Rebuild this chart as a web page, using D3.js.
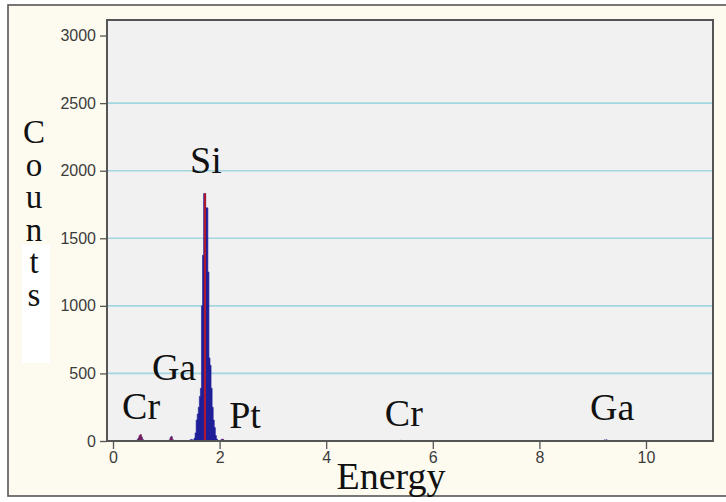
<!DOCTYPE html>
<html>
<head>
<meta charset="utf-8">
<script src="https://cdn.jsdelivr.net/npm/d3@7"></script>
<style>
  html, body { margin: 0; padding: 0; background: #ffffff; }
  svg { display: block; }
</style>
</head>
<body>
<svg id="chart" width="726" height="502"></svg>
<script>
// EDS spectrum: energy (keV) vs counts
const yTicks = [0, 500, 1000, 1500, 2000, 2500, 3000];
const xTicks = [0, 2, 4, 6, 8, 10];
const gridValues = [500, 1000, 1500, 2000, 2500];

// Measured spectrum channels (0.02 keV wide); channels not listed are empty
const specEnergy = [0.22, 0.24, 0.26, 0.44, 0.46, 0.48, 0.50, 0.52, 0.54, 0.56,
  1.06, 1.08, 1.10, 1.12, 1.43, 1.45, 1.47, 1.49, 1.51,
  1.53, 1.55, 1.57, 1.59, 1.61, 1.63, 1.65, 1.67, 1.69, 1.71, 1.73, 1.75, 1.77,
  1.79, 1.81, 1.83, 1.85, 1.87, 1.89, 1.91, 1.93, 1.95,
  2.02, 2.04, 2.06, 2.08, 5.38, 5.40, 5.42, 9.20, 9.22, 9.24, 9.26, 9.28];
const specCounts = [2, 4, 2, 4, 10, 22, 38, 46, 30, 12,
  8, 26, 34, 12, 4, 8, 12, 9, 6,
  20, 60, 155, 200, 250, 330, 390, 1000, 1375, 1830, 1830, 1725, 1725,
  1250, 615, 560, 390, 250, 155, 100, 40, 15,
  6, 12, 14, 6, 3, 5, 3, 4, 8, 6, 9, 4];

// Overlay trace
const overlayEnergy = [0.48, 0.50, 0.52, 0.54, 1.08, 1.10, 1.12, 1.725, 2.04, 2.06];
const overlayCounts = [14, 40, 48, 20, 18, 30, 8, 1830, 8, 10];

// Peak annotations (left edge of each label, baseline height in counts)
const peakLabels = ["Si", "Ga", "Cr", "Pt", "Cr", "Ga"];
const peakEnergy = [1.445, 0.73, 0.17, 2.18, 5.10, 8.95];
const peakCounts = [1983, 451, 163, 96, 111, 155];

const yLetters = ["C", "o", "u", "n", "t", "s"];

const svg = d3.select("#chart");

// Outer panel
svg.append("rect").attr("x", 8).attr("y", 5).attr("width", 740).attr("height", 491)
  .attr("fill", "#fdfbef").attr("stroke", "#555").attr("stroke-width", 1.6);

const plot = {left: 107, right: 713, top: 20, bottom: 441};

const x = d3.scaleLinear().domain([-0.1126, 11.257]).range([plot.left, plot.right]);
const y = d3.scaleLinear().domain([0, 3115]).range([plot.bottom, plot.top]);

// Plot background
svg.append("rect")
  .attr("x", plot.left).attr("y", plot.top)
  .attr("width", plot.right - plot.left).attr("height", plot.bottom - plot.top)
  .attr("fill", "#f1f1f1");

// Gridlines
svg.append("g").selectAll("line").data(gridValues).join("line")
  .attr("x1", plot.left).attr("x2", plot.right)
  .attr("y1", d => y(d)).attr("y2", d => y(d))
  .attr("stroke", "#a3d6e0").attr("stroke-width", 1.6);

// Split the channel list into contiguous runs, each closed off with empty channels
function runs(energies, counts, step) {
  const out = [];
  let cur = null;
  energies.forEach((e, i) => {
    if (!cur || e - cur[cur.length - 1].e > step * 1.5) {
      if (cur) out.push(cur);
      cur = [];
    }
    cur.push({e, c: counts[i]});
  });
  if (cur) out.push(cur);
  return out.map(r => [{e: r[0].e - step, c: 0}, ...r, {e: r[r.length - 1].e + step, c: 0}]);
}

const area = d3.area().curve(d3.curveStep)
  .x(d => x(d.e)).y0(y(0)).y1(d => y(d.c));

svg.append("g").selectAll("path").data(runs(specEnergy, specCounts, 0.02)).join("path")
  .attr("d", area)
  .attr("fill", "#1e1e98").attr("stroke", "#1e1e98").attr("stroke-width", 0.6);

// Overlay drawn as narrow red channels on top
svg.append("g").selectAll("path").data(runs(overlayEnergy, overlayCounts, 0.02)).join("path")
  .attr("d", area)
  .attr("fill", "#cf1f2a").attr("stroke", "#b01a30").attr("stroke-width", 1)
  .attr("opacity", d => d3.max(d, p => p.c) > 500 ? 1 : 0.55);

// Plot border
svg.append("rect")
  .attr("x", plot.left).attr("y", plot.top)
  .attr("width", plot.right - plot.left).attr("height", plot.bottom - plot.top)
  .attr("fill", "none").attr("stroke", "#555").attr("stroke-width", 2);

// Axes
const yAxis = d3.axisLeft(y).tickValues(yTicks).tickFormat(d3.format("d")).tickSize(7).tickPadding(4);
const gy = svg.append("g").attr("transform", `translate(${plot.left},0)`).call(yAxis);
const xAxis = d3.axisBottom(x).tickValues(xTicks).tickFormat(d3.format("d")).tickSize(8).tickPadding(3);
const gx = svg.append("g").attr("transform", `translate(0,${plot.bottom})`).call(xAxis);

[gy, gx].forEach(g => {
  g.select(".domain").remove();
  g.selectAll(".tick line").attr("stroke", "#555").attr("stroke-width", 1.3);
  g.selectAll(".tick text")
    .attr("fill", "#3c3c3c")
    .style("font-family", "'Liberation Sans', Arial, sans-serif")
    .style("font-size", "16px");
});

// Peak labels
svg.append("g").selectAll("text").data(peakLabels).join("text")
  .attr("x", (d, i) => x(peakEnergy[i]))
  .attr("y", (d, i) => y(peakCounts[i]))
  .attr("text-anchor", "start")
  .style("font-family", "'Liberation Serif', 'Times New Roman', serif")
  .style("font-size", "38px")
  .attr("fill", "#111")
  .text(d => d);

// Axis titles
svg.append("rect").attr("x", 22).attr("y", 245).attr("width", 28).attr("height", 118)
  .attr("fill", "#ffffff");

svg.append("g").selectAll("text").data(yLetters).join("text")
  .attr("x", 34)
  .attr("y", (d, i) => 143 + i * 32.5)
  .attr("text-anchor", "middle")
  .style("font-family", "'Liberation Serif', 'Times New Roman', serif")
  .style("font-size", "33px")
  .attr("fill", "#111")
  .text(d => d);

svg.append("text")
  .attr("x", 391).attr("y", 489)
  .attr("text-anchor", "middle")
  .style("font-family", "'Liberation Serif', 'Times New Roman', serif")
  .style("font-size", "38px")
  .attr("fill", "#111")
  .text("Energy");
</script>
</body>
</html>
